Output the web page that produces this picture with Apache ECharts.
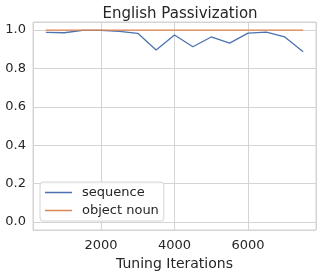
<!DOCTYPE html>
<html>
<head>
<meta charset="utf-8">
<script src="https://cdn.jsdelivr.net/npm/echarts@6/dist/echarts.min.js"></script>
<style>html,body{margin:0;padding:0;background:#fff;}#chart{width:322px;height:275px;}</style>
</head>
<body>
<div id="chart"></div>
<script>
const iterations = [500, 1000, 1500, 2000, 2500, 3000, 3500, 4000, 4500, 5000, 5500, 6000, 6500, 7000, 7500];
const sequenceAcc = [0.988, 0.986, 0.998, 0.998, 0.993, 0.983, 0.896, 0.974, 0.913, 0.964, 0.932, 0.984, 0.989, 0.964, 0.887];
const objectNounAcc = [1.0, 1.0, 1.0, 1.0, 1.0, 1.0, 1.0, 1.0, 1.0, 1.0, 1.0, 1.0, 1.0, 1.0, 1.0];
const seriesNames = ['sequence', 'object noun'];
const xTickLabels = [2000, 4000, 6000];
const yTickLabels = ['0.0', '0.2', '0.4', '0.6', '0.8', '1.0'];

const txt = '#262626';
const font = 'DejaVu Sans';
const gridColor = '#d4d4d4';
const chart = echarts.init(document.getElementById('chart'), null, {renderer: 'canvas'});
const pairs = (xs, ys) => xs.map((x, i) => [x, ys[i]]);
chart.setOption({
  animation: false,
  backgroundColor: '#ffffff',
  textStyle: {fontFamily: font, color: txt},
  title: {
    text: 'English Passivization',
    left: 175, top: 2, textAlign: 'center',
    textStyle: {fontFamily: font, fontSize: 15, fontWeight: 'normal', color: txt}
  },
  grid: {left: 33, right: 6, top: 22, bottom: 45, show: true, borderColor: gridColor, borderWidth: 1,
    containLabel: false, outerBoundsMode: 'none'},
  legend: {
    orient: 'vertical', left: 40, top: 182,
    data: seriesNames,
    icon: 'rect',
    itemWidth: 27, itemHeight: 1.5, itemGap: 5,
    padding: [4, 5, 4, 5],
    borderColor: gridColor, borderWidth: 1, borderRadius: 3,
    backgroundColor: 'rgba(255,255,255,0.8)',
    textStyle: {fontFamily: font, fontSize: 13, color: txt, padding: [0, 0, 0, 5]}
  },
  xAxis: {
    type: 'value', min: 150, max: 7850, splitNumber: 4,
    name: 'Tuning Iterations', nameLocation: 'middle', nameGap: 25,
    nameTextStyle: {fontFamily: font, fontSize: 14, color: txt},
    axisLine: {show: false}, axisTick: {show: false},
    axisLabel: {fontFamily: font, fontSize: 13, color: txt, margin: 9,
      showMinLabel: false, showMaxLabel: false,
      formatter: v => xTickLabels.includes(v) ? String(v) : ''},
    splitLine: {show: true, lineStyle: {color: gridColor, width: 1}}
  },
  yAxis: {
    type: 'value', min: -0.042, max: 1.042, splitNumber: 5,
    name: 'Accuracy', nameLocation: 'middle', nameGap: 31,
    nameTextStyle: {fontFamily: font, fontSize: 14, color: txt},
    axisLine: {show: false}, axisTick: {show: false},
    axisLabel: {fontFamily: font, fontSize: 13, color: txt, margin: 7,
      showMinLabel: false, showMaxLabel: false,
      formatter: v => { const s = (Math.round(v * 10) / 10).toFixed(1); return (Math.abs(v - Math.round(v / 0.2) * 0.2) < 1e-6 && yTickLabels.includes(s)) ? s : ''; }},
    splitLine: {show: true, lineStyle: {color: gridColor, width: 1}}
  },
  series: [
    {name: seriesNames[0], type: 'line', data: pairs(iterations, sequenceAcc), symbol: 'none', showSymbol: false,
     itemStyle: {color: '#4c72b0'}, lineStyle: {color: '#4c72b0', width: 1.3}},
    {name: seriesNames[1], type: 'line', data: pairs(iterations, objectNounAcc), symbol: 'none', showSymbol: false,
     itemStyle: {color: '#dd8452'}, lineStyle: {color: '#dd8452', width: 1.3}}
  ]
});
</script>
</body>
</html>
